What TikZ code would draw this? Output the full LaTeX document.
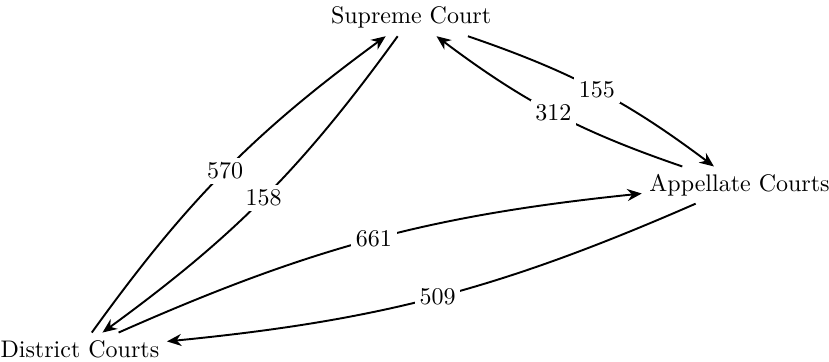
\documentclass[tikz,border=0pt]{standalone}
\usepackage{tikz}
\usetikzlibrary{arrows.meta, calc, positioning}

\begin{document}
\begin{tikzpicture}[
    court/.style={inner sep=3pt},
    flow/.style={thick, -{Stealth[length=6pt, width=5pt]}, bend left=9},
    count/.style={midway, fill=white, inner sep=2pt}
]
\useasboundingbox (0,0) rectangle (12.14,5.3);

% Courts
\node[court] (supreme) at (6.02,5.04) {Supreme Court};
\node[court] (appellate) at (10.83,2.59) {Appellate Courts};
\node[court] (district) at (1.17,0.19) {District Courts};

% Flows between courts
\draw[flow] (district) to node[count] {570} (supreme);
\draw[flow] (supreme) to node[count] {158} (district);
\draw[flow] (supreme) to node[count] {155} (appellate);
\draw[flow] (appellate) to node[count] {312} (supreme);
\draw[flow] (district) to node[count] {661} (appellate);
\draw[flow] (appellate) to node[count] {509} (district);

\end{tikzpicture}
\end{document}
